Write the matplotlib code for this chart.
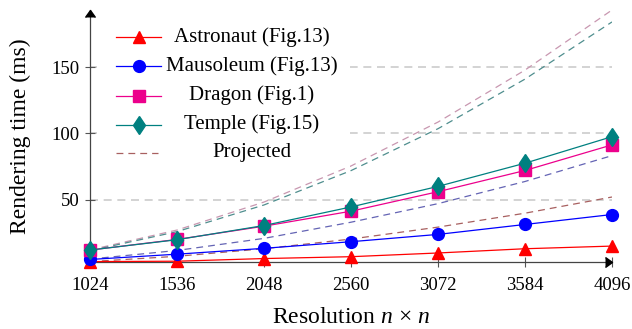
import matplotlib
matplotlib.use('Agg')
import matplotlib.pyplot as plt
from matplotlib.lines import Line2D
from matplotlib.patches import Rectangle

plt.rcParams['font.family'] = ['Liberation Serif', 'DejaVu Serif']
plt.rcParams['mathtext.fontset'] = 'custom'
plt.rcParams['mathtext.rm'] = 'Liberation Serif'
plt.rcParams['mathtext.it'] = 'Liberation Serif:italic'

# data
resolution = [1024, 1536, 2048, 2560, 3072, 3584, 4096]
astronaut = [3.3, 3.6, 5.6, 7.0, 9.8, 13.0, 15.0]
mausoleum = [4.9, 8.9, 13.3, 18.3, 23.8, 31.3, 38.8]
dragon = [12.0, 20.0, 30.0, 41.3, 56.0, 72.0, 91.3]
temple = [12.0, 19.8, 30.5, 44.5, 60.0, 77.5, 97.5]

# projected (dashed) curves
astronaut_proj = [3.3, 7.3, 13.0, 20.3, 29.3, 39.8, 52.0]
mausoleum_proj = [5.2, 11.7, 20.8, 33.0, 47.0, 63.7, 83.2]
dragon_proj = [12.1, 27.1, 48.2, 75.4, 108.5, 147.7, 193.0]
temple_proj = [11.5, 25.9, 46.0, 71.9, 103.5, 140.9, 184.0]

labels = ['Astronaut (Fig.13)', 'Mausoleum (Fig.13)', 'Dragon (Fig.1)', 'Temple (Fig.15)']
colors = ['#ff0000', '#0000ff', '#ec008c', '#008080']
proj_colors = ['#a86060', '#6464b4', '#c897b0', '#4f8e8e']
markers = ['^', 'o', 's', 'd']
msizes = [8, 8.5, 8, 9.5]

fig = plt.figure(figsize=(6.32, 3.29), dpi=100)
ax = fig.add_axes([90 / 632, 67 / 329, 522 / 632, 252 / 329])

series = [astronaut, mausoleum, dragon, temple]
projs = [astronaut_proj, mausoleum_proj, dragon_proj, temple_proj]

for p, c in zip(projs, proj_colors):
    ax.plot(resolution, p, color=c, lw=0.9, dashes=(5.5, 4), zorder=2)

for s, c, m, ms in zip(series, colors, markers, msizes):
    ax.plot(resolution, s, color=c, lw=0.9, marker=m, markersize=ms, zorder=3, clip_on=False)

ax.set_xlim(1024, 4096)
ax.set_ylim(3, 193)
ax.set_xticks(resolution)
ax.set_yticks([50, 100, 150])
ax.tick_params(direction='inout', length=7, width=0.8, color='#555555', labelsize=13.5)
ax.tick_params(axis='x', pad=7)
ax.tick_params(axis='y', pad=4)
ax.yaxis.grid(True, color='#cccccc', lw=1.2, dashes=(4.8, 3.4))
ax.set_axisbelow(True)

for side in ['top', 'right']:
    ax.spines[side].set_visible(False)
for side in ['left', 'bottom']:
    ax.spines[side].set_color('#444444')
    ax.spines[side].set_linewidth(0.9)
ax.plot(1, 0, marker=5, color='black', ms=7, transform=ax.transAxes, clip_on=False, zorder=5)
ax.plot(0, 1, marker=6, color='black', ms=7, transform=ax.transAxes, clip_on=False, zorder=5)

ax.set_xlabel('Resolution $n$ × $n$', fontsize=17, labelpad=10)
ax.set_ylabel('Rendering time (ms)', fontsize=17, labelpad=15)

# legend drawn by hand so the labels can be centred like the original
def ax_x(px):
    return (px - 90) / 522

def ax_y(py):
    return (262 - py) / 252

ax.add_patch(Rectangle((ax_x(97), ax_y(168)), ax_x(350) - ax_x(97), ax_y(20) - ax_y(168),
                       transform=ax.transAxes, facecolor='white', edgecolor='none', zorder=6))
rows = [37, 66, 95.5, 124.5, 153]
for i in range(4):
    y = ax_y(rows[i])
    ax.add_line(Line2D([ax_x(116), ax_x(161)], [y, y], color=colors[i], lw=0.9,
                       transform=ax.transAxes, zorder=7))
    ax.add_line(Line2D([ax_x(138.5)], [y], color=colors[i], marker=markers[i], markersize=msizes[i],
                       transform=ax.transAxes, zorder=7))
    ax.text(ax_x(251.5), y, labels[i], transform=ax.transAxes, ha='center', va='center',
            fontsize=15, zorder=8)
y = ax_y(rows[4])
ax.add_line(Line2D([ax_x(116), ax_x(158)], [y, y], color=proj_colors[0], lw=0.9, dashes=(5.5, 4),
                   transform=ax.transAxes, zorder=7))
ax.text(ax_x(251.5), y, 'Projected', transform=ax.transAxes, ha='center', va='center',
        fontsize=15, zorder=8)

fig.savefig('out.png', dpi=100)
